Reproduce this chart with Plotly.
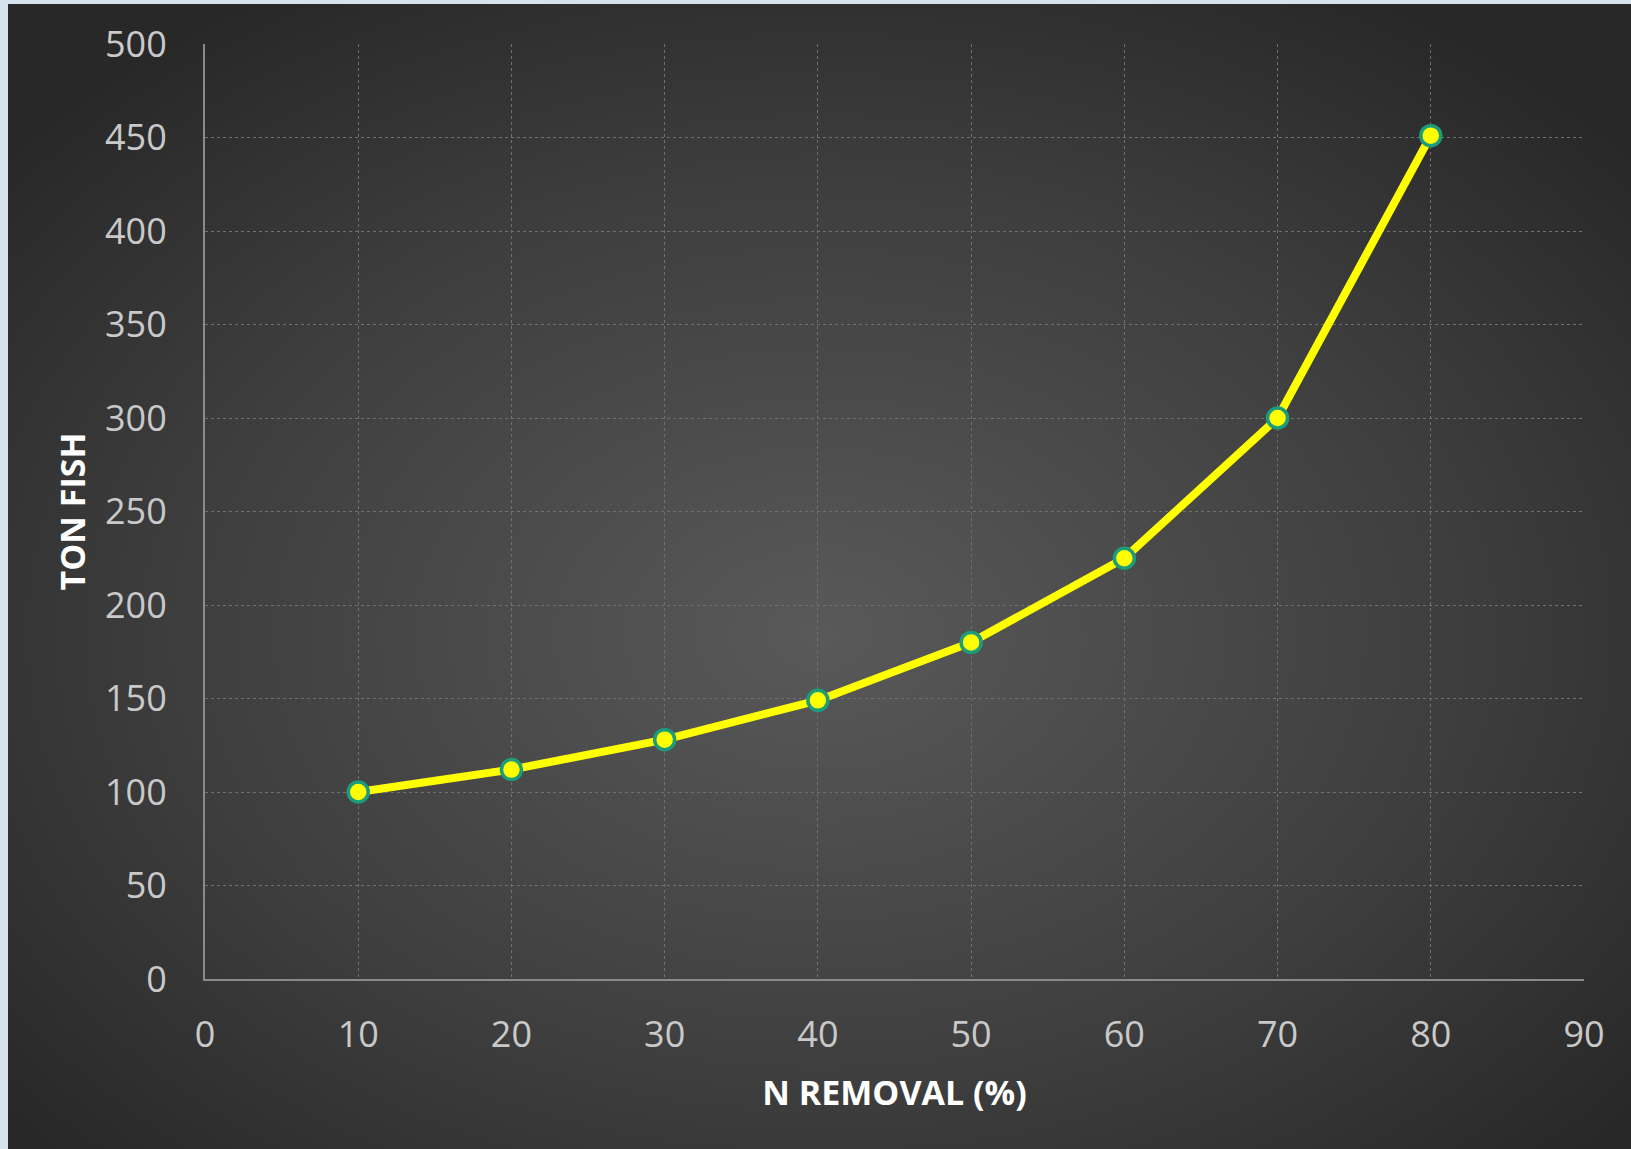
import base64
import plotly.graph_objects as go

n_removal = [10, 20, 30, 40, 50, 60, 70, 80]
ton_fish = [100, 112, 128, 149, 180, 225, 300, 451]
x_ticks = [0, 10, 20, 30, 40, 50, 60, 70, 80, 90]
y_ticks = [0, 50, 100, 150, 200, 250, 300, 350, 400, 450, 500]

W, H = 1631, 1149
L, R, T, B = 205, 47, 44, 170
pw, ph = W - L - R, H - T - B

svg = (
    '<svg xmlns="http://www.w3.org/2000/svg" width="1623" height="1145" '
    'viewBox="0 0 1623 1145" preserveAspectRatio="none">'
    '<defs><radialGradient id="g" cx="50%" cy="55%" r="65%">'
    '<stop offset="0" stop-color="#595959"/>'
    '<stop offset="0.6" stop-color="#3e3e3e"/>'
    '<stop offset="1" stop-color="#282828"/>'
    '</radialGradient></defs>'
    '<rect x="0" y="0" width="1623" height="1145" fill="url(#g)"/></svg>'
)
src = "data:image/svg+xml;base64," + base64.b64encode(svg.encode()).decode()

fig = go.Figure()
fig.add_trace(go.Scatter(
    x=n_removal, y=ton_fish, mode="lines+markers",
    line=dict(color="#ffff00", width=8),
    marker=dict(size=20, color="#ffff00", line=dict(color="#1d9c7c", width=3.5)),
    showlegend=False, cliponaxis=False,
))

fig.add_layout_image(dict(
    source=src, xref="paper", yref="paper",
    x=(8 - L) / pw, y=(H - B - 4) / ph,
    sizex=(W - 8) / pw, sizey=(H - 4) / ph,
    xanchor="left", yanchor="top", sizing="stretch", layer="below",
))

axis_font = dict(family="Open Sans, sans-serif", size=36, color="#c9c9c9")
title_font = dict(family="Open Sans, sans-serif", size=34, color="#ffffff")

fig.update_layout(
    width=W, height=H,
    margin=dict(l=L, r=R, t=T, b=B),
    paper_bgcolor="#d6e3ef",
    plot_bgcolor="rgba(0,0,0,0)",
    xaxis=dict(
        range=[0, 90], tickvals=x_ticks, ticktext=[str(v) for v in x_ticks],
        showgrid=True, gridcolor="#707070", griddash="dot", gridwidth=1,
        showline=True, linecolor="#8a8a8a", linewidth=2,
        zeroline=False, tickfont=axis_font, ticklabelstandoff=23,
        title=dict(text="<b>N REMOVAL (%)</b>", font=title_font, standoff=24),
    ),
    yaxis=dict(
        range=[0, 500], tickvals=y_ticks, ticktext=[str(v) for v in y_ticks],
        showgrid=True, gridcolor="#707070", griddash="dot", gridwidth=1,
        showline=True, linecolor="#8a8a8a", linewidth=2,
        zeroline=False, tickfont=axis_font, ticklabelstandoff=29,
        title=dict(text="<b>TON FISH</b>", font=title_font, standoff=9),
    ),
)

fig.write_html(
    "out.html",
    config={"displayModeBar": False},
    post_script="document.body.style.margin='0';document.body.style.background='#d6e3ef';",
)
